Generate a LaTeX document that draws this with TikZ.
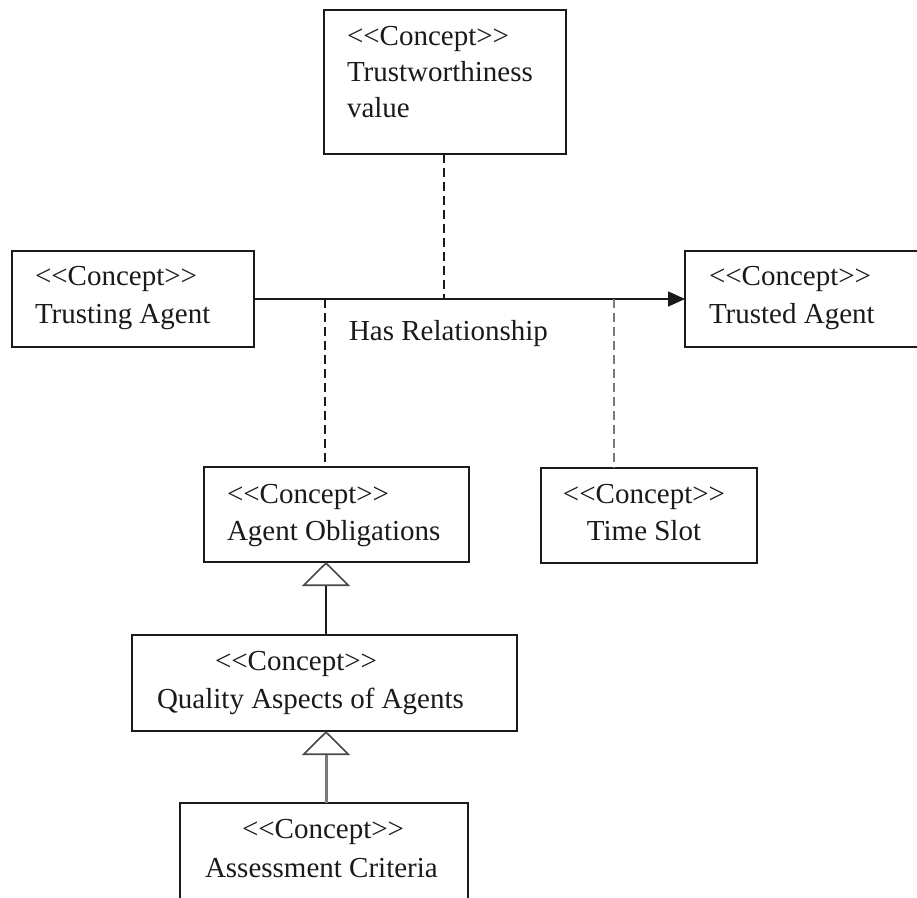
\documentclass[tikz,border=0pt]{standalone}
\usepackage{fontspec}
\setmainfont{Liberation Serif}
\usetikzlibrary{arrows.meta}
% stereotype brackets kept as plain angle characters
\newcommand\stereo[1]{<\kern0pt<#1>\kern0pt>}
\definecolor{ink}{HTML}{1A1A1A}
\definecolor{softgray}{HTML}{7A7A7A}
\begin{document}
\begin{tikzpicture}[x=1pt, y=-1pt,
  concept/.style={draw=ink, line width=1.8pt, rectangle, inner sep=0pt, outer sep=0pt, anchor=north west},
  lbl/.style={inner sep=0pt, outer sep=0pt, font=\fontsize{29}{35}\selectfont, text=ink},
  assoc/.style={draw=ink, line width=1.6pt, -{Triangle[length=17pt, width=15pt]}},
  link/.style={draw=ink, line width=1.4pt, dash pattern=on 9pt off 5pt},
  graylink/.style={link, draw=softgray},
  gen/.style={draw=ink, line width=1.5pt, -{Triangle[open, length=24pt, width=48pt, line width=1.6pt, color=ink!80, fill=white]}},
  graygen/.style={gen, draw=softgray, line width=3pt}
]
\useasboundingbox (0,0) rectangle (917,897);
\fill[white] (0,0) rectangle (917,897);

% concept boxes
\node[concept, minimum width=242pt, minimum height=144pt] (trust) at (324,10) {};
\node[concept, minimum width=242pt, minimum height=96pt] (trusting) at (12,251) {};
\node[concept, minimum width=240pt, minimum height=96pt] (trusted) at (685,251) {};
\node[concept, minimum width=265pt, minimum height=95pt] (obl) at (204,467) {};
\node[concept, minimum width=216pt, minimum height=95pt] (slot) at (541,468) {};
\node[concept, minimum width=385pt, minimum height=96pt] (qual) at (132,635) {};
\node[concept, minimum width=288pt, minimum height=110pt] (crit) at (180,803) {};

% box texts
\node[lbl, anchor=base west] (trust1) at (347,45) {\stereo{Concept}};
\node[lbl, anchor=base west] (trust2) at (347,81) {Trustworthiness};
\node[lbl, anchor=base west] (trust3) at (347,117) {value};
\node[lbl, anchor=base west] (trusting1) at (35,285) {\stereo{Concept}};
\node[lbl, anchor=base west] (trusting2) at (35,323) {Trusting Agent};
\node[lbl, anchor=base west] (trusted1) at (709,285) {\stereo{Concept}};
\node[lbl, anchor=base west] (trusted2) at (709,323) {Trusted Agent};
\node[lbl, anchor=base west] (obl1) at (227,503) {\stereo{Concept}};
\node[lbl, anchor=base west] (obl2) at (227,540) {Agent Obligations};
\node[lbl, anchor=base] (slot1) at (644,503) {\stereo{Concept}};
\node[lbl, anchor=base] (slot2) at (644,540) {Time Slot};
\node[lbl, anchor=base west] (qual1) at (215,670) {\stereo{Concept}};
\node[lbl, anchor=base west] (qual2) at (157,708) {Quality Aspects of Agents};
\node[lbl, anchor=base west] (crit1) at (242,838) {\stereo{Concept}};
\node[lbl, anchor=base west] (crit2) at (205,877) {Assessment Criteria};

% association and its label
\draw[assoc] (trusting.east) -- (trusted.west);
\node[lbl, anchor=base west] (rel) at (349,340) {Has Relationship};

% attachment points on the association
\coordinate (jtrust) at (444,299);
\coordinate (jobl) at (325,299);
\coordinate (jslot) at (614,299);

% dashed links to the association
\draw[link] (trust.south -| jtrust) -- (jtrust);
\draw[link] (jobl) -- (jobl |- obl.north);
\draw[graylink] (jslot) -- (jslot |- slot.north);

% generalisations
\coordinate (gx) at (326,0);
\draw[gen] (gx |- qual.north) -- (gx |- obl.south);
\draw[graygen] (gx |- crit.north) -- (gx |- qual.south);
\end{tikzpicture}
\end{document}
